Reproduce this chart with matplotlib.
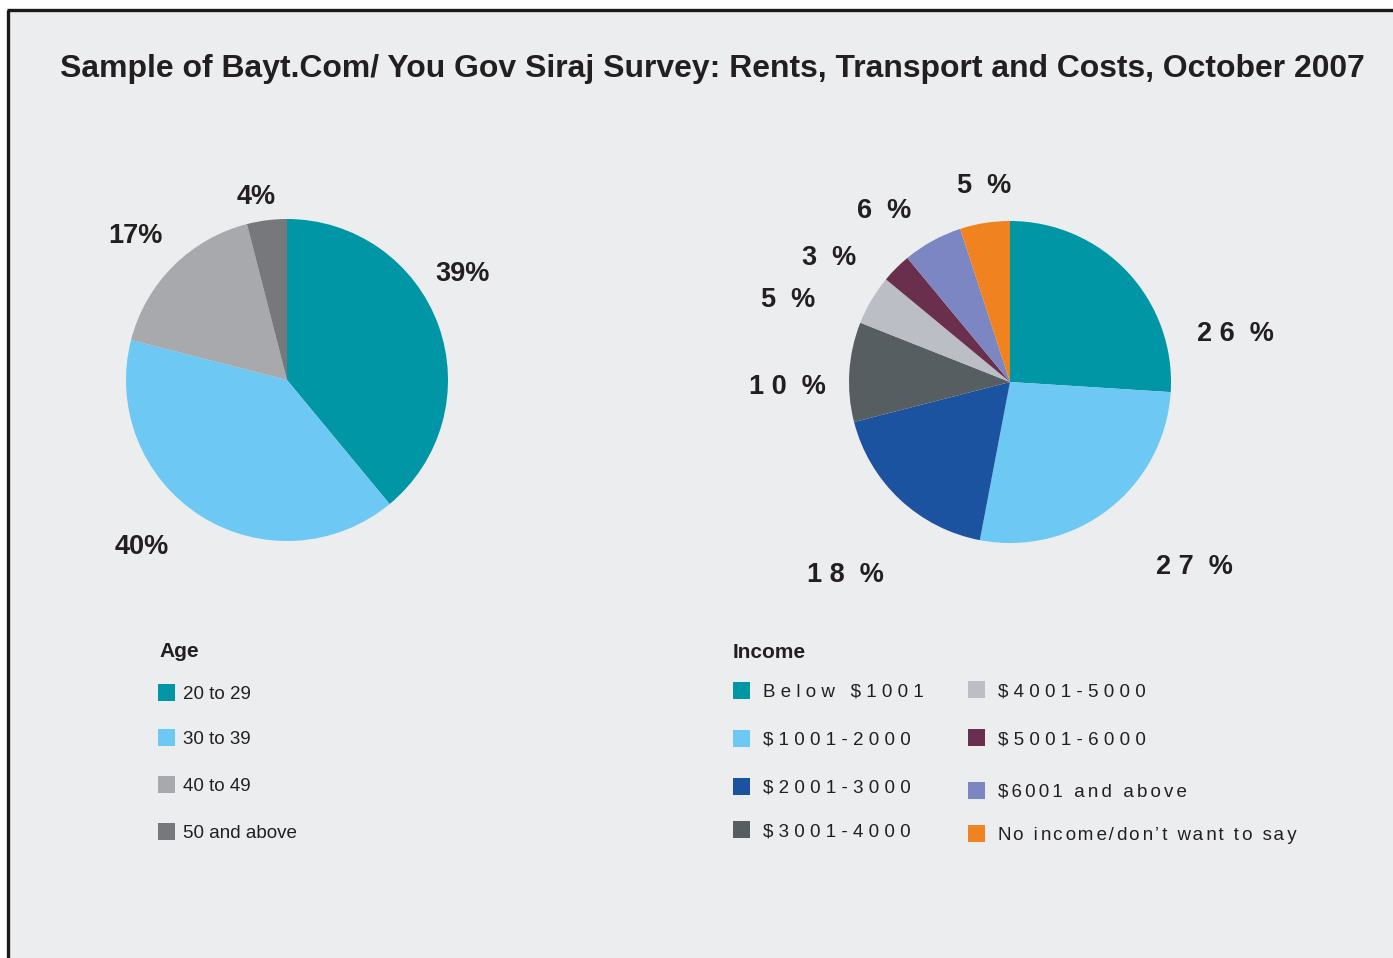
import matplotlib
matplotlib.use("Agg")
import matplotlib.pyplot as plt
from matplotlib.patches import Rectangle

# ---------------- data ----------------
title = "Sample of Bayt.Com/ You Gov Siraj Survey: Rents, Transport and Costs, October 2007"

age_title = "Age"
age_labels = ["20 to 29", "30 to 39", "40 to 49", "50 and above"]
age_values = [39, 40, 17, 4]
age_colors = ["#0096a5", "#6ec8f4", "#a7a9ac", "#77787b"]

income_title = "Income"
income_labels = ["Below $1001", "$1001-2000", "$2001-3000", "$3001-4000",
                 "$4001-5000", "$5001-6000", "$6001 and above",
                 "No income/don\u2019t want to say"]
income_values = [26, 27, 18, 10, 5, 3, 6, 5]
income_colors = ["#0096a5", "#6ec8f4", "#1b53a1", "#575e62",
                 "#bbbec5", "#6b2f4e", "#7b86c2", "#f08220"]

# ---------------- layout ----------------
W, H = 1393, 958
BG = "#ecedef"
TXT = "#231f20"
FONT = ["Liberation Sans", "DejaVu Sans"]
DY = 2.5  # vertical text nudge


def Y(y):
    return H - y


def spaced(s, seps):
    out = s[0]
    for i, ch in enumerate(s[1:]):
        out += seps[i % len(seps)] + ch
    return out


fig = plt.figure(figsize=(W / 100, H / 100), dpi=100, facecolor="white")
ax = fig.add_axes([0, 0, 1, 1])
ax.set_facecolor("white")

# background panel with top/left border
ax.add_patch(Rectangle((8, 0), W, Y(10), facecolor=BG, edgecolor="none", zorder=0))
ax.plot([8, 8], [0, Y(10)], color="#1a1a1a", lw=2.4, solid_capstyle="butt", zorder=1)
ax.plot([6.8, W], [Y(10), Y(10)], color="#1a1a1a", lw=2.4, solid_capstyle="butt", zorder=1)

# pies
ax.pie(age_values, colors=age_colors, startangle=90, counterclock=False,
       center=(287, Y(380)), radius=161, wedgeprops=dict(linewidth=0))
ax.pie(income_values, colors=income_colors, startangle=90, counterclock=False,
       center=(1010, Y(382)), radius=161, wedgeprops=dict(linewidth=0))

ax.set_xlim(0, W)
ax.set_ylim(0, H)
ax.set_aspect("auto")
ax.axis("off")

# pie value labels (positions are layout)
age_label_pos = [(463, 271), (142, 544), (135, 233), (256, 194)]
for v, (x, y) in zip(age_values, age_label_pos):
    ax.text(x, Y(y + DY), f"{v}%", ha="center", va="center", fontsize=19.5,
            fontweight="bold", family=FONT, color=TXT)

income_label_pos = [(1235, 331), (1194, 565), (845, 572), (787, 384),
                    (788, 297), (829, 255), (884, 208), (984, 183)]
for v, (x, y) in zip(income_values, income_label_pos):
    ax.text(x, Y(y + DY), " ".join(str(v)) + "  %", ha="center", va="center",
            fontsize=19.5, fontweight="bold", family=FONT, color=TXT)

# title
t = ax.text(60, Y(66 + DY), title, ha="left", va="center", fontsize=21,
            fontweight="bold", family=FONT, color=TXT)
fig.canvas.draw()
bb = t.get_window_extent(fig.canvas.get_renderer())
t.set_fontsize(21 * 1302 / bb.width)

LEG_FS = 13.5

# Age legend
ax.text(159, Y(649 + DY), age_title, ha="left", va="center", fontsize=15,
        fontweight="bold", family=FONT, color=TXT)
age_rows = [692, 737, 784, 831]
for lab, col, yy in zip(age_labels, age_colors, age_rows):
    ax.add_patch(Rectangle((158, Y(yy) - 8.5), 17, 17, facecolor=col,
                           edgecolor="none", zorder=2))
    ax.text(183, Y(yy + DY), lab, ha="left", va="center", fontsize=LEG_FS,
            family=FONT, color=TXT)

# Income legend
ax.text(733, Y(650 + DY), income_title, ha="left", va="center", fontsize=15,
        fontweight="bold", family=FONT, color=TXT)
inc_pos = [(733, 690), (733, 738), (733, 786), (733, 829),
           (968, 689), (968, 737), (968, 790), (968, 833)]
inc_sep = [[" "], [" "], [" "], [" "], [" "], [" "], ["\u2006"],
           ["\u200a", "\u200a\u200a"]]
for lab, col, (x, yy), sep in zip(income_labels, income_colors, inc_pos, inc_sep):
    ax.add_patch(Rectangle((x, Y(yy) - 8.5), 17, 17, facecolor=col,
                           edgecolor="none", zorder=2))
    ax.text(x + 30, Y(yy + DY), spaced(lab, sep), ha="left", va="center",
            fontsize=LEG_FS, family=FONT, color=TXT)

fig.savefig("out.png", dpi=100, facecolor="white")
